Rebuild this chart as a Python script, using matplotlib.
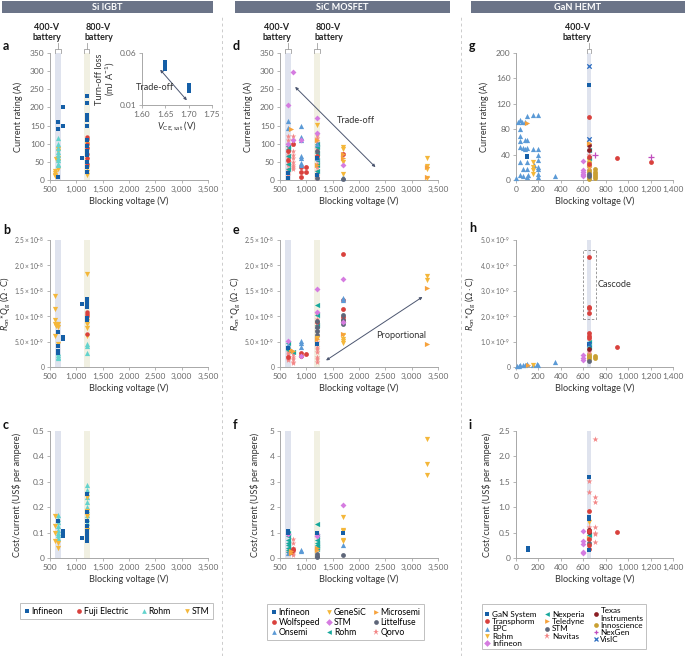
import matplotlib.pyplot as plt
import matplotlib.transforms as mtransforms
from matplotlib.lines import Line2D
from matplotlib.patches import Rectangle

plt.rcParams['font.family'] = ['Lato', 'DejaVu Sans']
plt.rcParams['mathtext.fontset'] = 'custom'
plt.rcParams['mathtext.rm'] = 'Lato'
plt.rcParams['mathtext.it'] = 'Lato:italic'
plt.rcParams['mathtext.bf'] = 'Lato:bold'

# ---------------- data: (blocking voltage, value) ----------------
# Si IGBT, current rating (A)
a_infineon = [(650, 160), (650, 140), (650, 8), (750, 200), (750, 150), (1100, 60), (1200, 232), (1200, 212),
              (1200, 178), (1200, 172), (1200, 166), (1200, 150), (1200, 110), (1200, 95), (1200, 80),
              (1200, 70), (1200, 50), (1200, 35), (1200, 22)]
a_fuji = [(1200, 118), (1200, 112), (1200, 100), (1200, 88), (1200, 72), (1200, 62), (1200, 45)]
a_rohm = [(650, 115), (650, 100), (650, 88), (650, 78), (650, 68), (650, 60), (650, 55), (650, 45), (650, 40)]
a_stm = [(600, 25), (600, 20), (600, 15), (600, 10), (620, 58), (650, 85), (650, 80), (650, 62), (650, 52),
         (650, 30), (1200, 98), (1200, 85), (1200, 55), (1200, 32), (1200, 22), (1200, 15)]
# inset: V_CE,sat vs turn-off loss
inset_infineon = [(1.65, 0.051), (1.65, 0.049), (1.65, 0.047), (1.65, 0.045), (1.70, 0.029), (1.70, 0.027),
                  (1.70, 0.025), (1.70, 0.023)]

# Si IGBT, Ron*Qg
b_infineon = [(650, 6.9e-9), (650, 4.1e-9), (650, 3.1e-9), (650, 2.7e-9), (750, 5.5e-9), (750, 5.9e-9),
              (1100, 12.4e-9), (1200, 13.4e-9), (1200, 12.9e-9), (1200, 12.4e-9), (1200, 11.9e-9),
              (1200, 9.6e-9), (1200, 9.2e-9)]
b_fuji = [(1200, 10.8e-9), (1200, 10.4e-9), (1200, 10.0e-9), (1200, 6.4e-9)]
b_rohm = [(650, 2.7e-9), (650, 2.3e-9), (650, 2.0e-9), (650, 1.7e-9), (1200, 4.6e-9), (1200, 4.2e-9),
          (1200, 2.8e-9)]
b_stm = [(600, 13.9e-9), (600, 11.4e-9), (600, 9.2e-9), (600, 8.4e-9), (620, 8.1e-9), (650, 8.4e-9),
         (650, 7.9e-9), (600, 6.2e-9), (650, 4.6e-9), (1200, 18.3e-9), (1200, 9.0e-9), (1200, 8.5e-9),
         (1200, 7.7e-9), (1200, 6.2e-9)]

# Si IGBT, cost/current
c_infineon = [(650, 0.147), (750, 0.105), (750, 0.095), (750, 0.086), (1100, 0.078), (1200, 0.253),
              (1200, 0.18), (1200, 0.147), (1200, 0.125), (1200, 0.105), (1200, 0.095), (1200, 0.085),
              (1200, 0.075), (1200, 0.066)]
c_fuji = []
c_rohm = [(650, 0.17), (650, 0.155), (650, 0.14), (650, 0.125), (650, 0.11), (650, 0.1), (650, 0.09),
          (650, 0.08), (1200, 0.288), (1200, 0.268), (1200, 0.24), (1200, 0.22), (1200, 0.2), (1200, 0.19),
          (1200, 0.17), (1200, 0.155), (1200, 0.138)]
c_stm = [(600, 0.164), (600, 0.125), (600, 0.099), (600, 0.066), (650, 0.06), (650, 0.04), (1200, 0.242),
         (1200, 0.186), (1200, 0.164), (1200, 0.112)]

# SiC MOSFET, current rating (A)
d_infineon = [(650, 5), (650, 18), (1200, 60), (1200, 15)]
d_wolfspeed = [(900, 35), (1000, 35), (900, 21), (1000, 21), (900, 9), (650, 80), (650, 55), (750, 100),
               (1200, 65), (1700, 72)]
d_onsemi = [(650, 163), (650, 144), (900, 149), (900, 118), (900, 110), (900, 66), (900, 62), (900, 46),
            (900, 41), (1200, 100), (1200, 60), (1700, 9), (1700, 5)]
d_genesic = [(1200, 152), (1700, 92), (1700, 85), (1700, 50), (1700, 17), (3300, 62), (3300, 39), (3300, 29),
             (3300, 6)]
d_stm = [(750, 298), (650, 207), (1200, 170), (1200, 129), (750, 110), (900, 110), (1700, 41), (650, 100)]
d_rohm = [(650, 95), (650, 85), (650, 65), (650, 45), (650, 30), (1200, 100), (1200, 90), (1200, 75),
          (1200, 55), (1200, 40), (1200, 25)]
d_microsemi = [(700, 140), (1200, 110), (1200, 40), (1700, 73), (1700, 62), (3300, 37), (3300, 9)]
d_littelfuse = [(1200, 5), (1700, 3), (1200, 80)]
d_qorvo = [(650, 120), (650, 110), (650, 100), (650, 90), (650, 80), (650, 70), (650, 60), (650, 50),
           (650, 40), (650, 30), (650, 25), (650, 20), (650, 15), (750, 120), (750, 110), (750, 100),
           (750, 80), (750, 70), (750, 60), (750, 50), (750, 40), (750, 35), (750, 30), (1200, 125),
           (1200, 115), (1200, 105), (1200, 95), (1200, 85), (1200, 75), (1200, 65), (1200, 55), (1200, 45),
           (1200, 35), (1200, 25), (1200, 15), (1200, 10), (1200, 5)]

# SiC MOSFET, Ron*Qg
e_infineon = [(1200, 4.5e-9), (650, 3.8e-9)]
e_wolfspeed = [(1700, 22.2e-9), (1700, 13.1e-9), (1700, 11.4e-9), (1700, 9.9e-9), (1700, 9.3e-9),
               (900, 2.7e-9), (900, 2.2e-9), (1000, 2.5e-9), (1200, 8.8e-9), (650, 2.0e-9)]
e_onsemi = [(1700, 13.6e-9), (1700, 13.2e-9), (900, 5.2e-9), (900, 4.7e-9), (900, 4.0e-9), (650, 4.3e-9),
            (1200, 8.0e-9)]
e_genesic = [(3300, 18.0e-9), (3300, 17.1e-9), (1700, 6.3e-9), (1700, 5.6e-9), (1700, 5.1e-9),
             (1700, 4.7e-9), (1200, 5.8e-9)]
e_stm = [(1700, 17.4e-9), (1200, 15.3e-9), (650, 5.2e-9), (900, 2.2e-9), (1700, 8.8e-9), (1200, 10.9e-9)]
e_rohm = [(1200, 12.2e-9), (1200, 10.2e-9), (650, 4.7e-9), (650, 3.3e-9), (750, 3.0e-9), (1200, 8.3e-9)]
e_microsemi = [(3300, 15.6e-9), (3300, 4.5e-9), (1700, 6.4e-9), (700, 3.3e-9), (750, 3.1e-9), (1200, 5.6e-9)]
e_littelfuse = [(1700, 10.2e-9), (1700, 9.3e-9), (1700, 8.4e-9), (1200, 9.0e-9), (1200, 7.9e-9),
                (1200, 7.0e-9), (1200, 6.3e-9)]
e_qorvo = [(650, 4.0e-9), (650, 3.5e-9), (650, 3.0e-9), (650, 2.5e-9), (650, 2.0e-9), (650, 1.6e-9),
           (650, 1.3e-9), (750, 2.5e-9), (750, 2.0e-9), (750, 1.5e-9), (750, 1.0e-9), (750, 0.8e-9),
           (1200, 10.5e-9), (1200, 9.5e-9), (1200, 8.0e-9), (1200, 7.0e-9), (1200, 6.0e-9), (1200, 5.0e-9),
           (1200, 4.0e-9), (1200, 3.5e-9), (1200, 3.0e-9), (1200, 2.0e-9), (1200, 1.5e-9), (1200, 1.0e-9)]

# SiC MOSFET, cost/current
f_infineon = [(650, 1.05), (650, 0.98), (1200, 1.0), (1700, 1.0)]
f_wolfspeed = [(750, 0.35), (750, 0.3), (700, 0.25)]
f_onsemi = [(1700, 0.5), (900, 0.32), (900, 0.27), (650, 0.18)]
f_genesic = [(3300, 4.67), (3300, 3.72), (3300, 3.25), (1700, 1.6), (1700, 1.1), (1700, 1.05), (1700, 0.7),
             (1700, 0.65)]
f_stm = [(1700, 2.08), (1200, 0.95), (1200, 0.85), (650, 0.95)]
f_rohm = [(1200, 1.35), (650, 1.0), (650, 0.85), (650, 0.7), (650, 0.6), (650, 0.5), (650, 0.4), (650, 0.3),
          (650, 0.25), (1200, 0.85), (1200, 0.7), (1200, 0.6), (1200, 0.5), (1200, 0.45), (1200, 0.35)]
f_microsemi = [(700, 0.2), (700, 0.28), (1200, 0.33), (1200, 0.38)]
f_littelfuse = [(1700, 0.1), (1200, 0.03), (1200, 0.08), (1200, 0.15)]
f_qorvo = [(750, 0.75), (750, 0.6), (750, 0.4), (750, 0.3), (750, 0.2), (750, 0.12), (650, 0.25)]

# GaN HEMT, current rating (A)
g_gansystem = [(650, 150), (95, 38), (95, 36)]
g_transphorm = [(650, 99), (650, 36), (650, 25), (903, 34), (1203, 28)]
g_epc = [(21, 92), (36, 94), (51, 92), (80, 92), (95, 101), (149, 102), (199, 102), (36, 80), (36, 69),
         (36, 62), (80, 63), (95, 63), (36, 52), (60, 50), (80, 49), (101, 50), (149, 49), (199, 49),
         (36, 29), (95, 29), (199, 39), (199, 31), (160, 24), (199, 21), (199, 17), (65, 18), (95, 18),
         (199, 10), (0, 3), (36, 8), (65, 6), (95, 4), (110, 8), (199, 4), (348, 6)]
g_rohm = [(149, 29), (149, 21), (149, 16), (149, 9), (650, 30), (650, 20)]
g_infineon = [(600, 30), (600, 16), (600, 13), (600, 10), (600, 8), (600, 6)]
g_nexperia = [(648, 47), (648, 34)]
g_teledyne = [(95, 90), (650, 59)]
g_stm = [(650, 6), (650, 10)]
g_navitas = [(650, 21), (650, 40)]
g_texas = [(650, 55), (650, 48)]
g_innoscience = [(701, 17), (701, 13), (701, 10), (701, 6), (701, 3), (650, 28), (650, 22), (650, 15),
                 (650, 12), (650, 8), (650, 4), (650, 2)]
g_nexgen = [(701, 39), (1203, 37)]
g_visic = [(648, 180), (650, 65)]

# GaN HEMT, Ron*Qg
h_gansystem = [(650, 0.91e-9)]
h_transphorm = [(650, 4.33e-9), (650, 2.38e-9), (650, 2.31e-9), (650, 2.11e-9), (650, 1.33e-9),
                (650, 1.24e-9), (650, 1.14e-9), (905, 0.77e-9)]
h_epc = [(10, 0.03e-9), (25, 0.05e-9), (40, 0.06e-9), (60, 0.08e-9), (80, 0.07e-9), (100, 0.1e-9),
         (150, 0.09e-9), (190, 0.13e-9), (200, 0.08e-9), (350, 0.2e-9)]
h_rohm = [(153, 0.08e-9)]
h_infineon = [(598, 0.46e-9), (598, 0.35e-9), (598, 0.29e-9)]
h_nexperia = [(650, 1.0e-9), (650, 0.78e-9)]
h_teledyne = [(103, 0.08e-9)]
h_stm = [(650, 0.22e-9)]
h_navitas = [(650, 0.59e-9)]
h_texas = [(650, 0.69e-9)]
h_innoscience = [(704, 0.42e-9), (704, 0.35e-9), (650, 0.52e-9), (650, 0.45e-9), (650, 0.38e-9),
                 (650, 0.3e-9)]
h_nexgen = []
h_visic = [(650, 0.89e-9)]

# GaN HEMT, cost/current
i_gansystem = [(103, 0.2), (103, 0.15), (648, 1.59), (648, 0.8), (648, 0.77), (648, 0.15)]
i_transphorm = [(648, 0.93), (648, 0.54), (905, 0.51), (648, 0.25), (648, 0.18), (648, 0.37)]
i_epc = []
i_rohm = [(648, 0.71)]
i_infineon = [(598, 0.54), (598, 0.34), (598, 0.28), (598, 0.11), (598, 0.09)]
i_nexperia = [(648, 0.45)]
i_teledyne = [(648, 0.39)]
i_stm = [(648, 0.29)]
i_navitas = [(701, 2.34), (648, 1.52), (648, 1.29), (701, 1.21), (701, 1.11), (701, 0.61), (701, 0.49),
             (701, 0.47), (701, 0.31), (648, 0.62)]
i_texas = [(648, 0.56), (648, 0.52)]
i_innoscience = []
i_nexgen = []
i_visic = []

sic_volts = [500, 1000, 1500, 2000, 2500, 3000, 3500]
gan_volts = [0, 200, 400, 600, 800, 1000, 1200, 1400]

# ---------------- styles ----------------
BLUE = '#155fa7'
RED = '#d9413d'
CYAN = '#63d3cd'
YELLOW = '#f4b73a'
LBLUE = '#5b9ad6'
MAGENTA = '#d57ce0'
TEAL = '#17a89c'
ORANGE = '#f6a23c'
SLATE = '#5e6679'
PINK = '#f38686'
DRED = '#8b1e24'
GOLD = '#c9a032'
PURPLE = '#c04dbe'
VBLUE = '#2a6cc0'

ST = {
    'Infineon_sq': ('s', BLUE, 9),
    'Fuji': ('o', RED, 10),
    'Rohm_up': ('^', CYAN, 14),
    'STM_dn': ('v', YELLOW, 14),
    'Wolfspeed': ('o', RED, 12),
    'Onsemi': ('^', LBLUE, 14),
    'GeneSiC': ('v', YELLOW, 14),
    'STM_d': ('D', MAGENTA, 9),
    'Rohm_l': ('<', TEAL, 14),
    'Microsemi': ('>', ORANGE, 14),
    'Littelfuse': ('o', SLATE, 12),
    'Qorvo': ('*', PINK, 18),
    'GaNSys': ('s', BLUE, 9),
    'Transphorm': ('o', RED, 12),
    'EPC': ('^', LBLUE, 14),
    'Rohm_dn': ('v', YELLOW, 14),
    'Infineon_d': ('D', MAGENTA, 9),
    'Nexperia': ('<', TEAL, 14),
    'Teledyne': ('>', ORANGE, 14),
    'STM_o': ('o', SLATE, 12),
    'Navitas': ('*', PINK, 20),
    'Texas': ('o', DRED, 12),
    'Innoscience': ('o', GOLD, 12),
    'NexGen': ('+', PURPLE, 14),
    'VisIC': ('x', VBLUE, 10),
}

fig = plt.figure(figsize=(6.85, 6.56), dpi=100)
W, H = 685, 656


def px_axes(x0, y0, x1, y1):
    return fig.add_axes([x0 / W, 1 - y1 / H, (x1 - x0) / W, (y1 - y0) / H])


def pts(ax, data, key):
    if not data:
        return
    m, c, s = ST[key]
    xs = [p[0] for p in data]
    ys = [p[1] for p in data]
    lw = 0.9 if m in ('+', 'x') else 0
    ax.scatter(xs, ys, marker=m, s=s, color=c, linewidths=lw, clip_on=False, zorder=3)


def style(ax, xticks, yticks, ylabels, ylabel, label_x, ysize=6):
    for sp in ['top', 'right']:
        ax.spines[sp].set_visible(False)
    for sp in ['left', 'bottom']:
        ax.spines[sp].set_color('#a8a8a8')
        ax.spines[sp].set_linewidth(0.7)
    ax.set_xlim(xticks[0], xticks[-1])
    ax.set_xticks(xticks)
    ax.set_xticklabels([f'{v:,}' for v in xticks])
    ax.set_ylim(yticks[0], yticks[-1])
    ax.set_yticks(yticks)
    ax.set_yticklabels(ylabels)
    ax.tick_params(length=2.5, width=0.6, color='#a8a8a8', labelsize=6, labelcolor='#6a6a6a', pad=1.5)
    ax.tick_params(axis='y', labelsize=ysize)
    ax.set_xlabel('Blocking voltage (V)', fontsize=6.6, color='#333333', labelpad=3)
    ax.set_ylabel(ylabel, fontsize=6.6, color='#333333')
    # place the y label at a pixel column (right edge of the rotated text)
    bb = ax.get_position()
    ax.yaxis.set_label_coords((label_x + 4 - bb.x0 * W) / (bb.width * W), 0.5)


def battery(ax, x0, x1, label=None, color='#dfe3ee', side='right'):
    ax.axvspan(x0, x1, color=color, zorder=0, lw=0)
    if label is None:
        return
    tr = mtransforms.blended_transform_factory(ax.transData, ax.transAxes)
    ax.plot([x0, x0, x1, x1], [1.0, 1.035, 1.035, 1.0], transform=tr, color='#a0a0a0', lw=0.6, clip_on=False)
    xm = (x0 + x1) / 2
    ax.plot([xm, xm], [1.035, 1.075], transform=tr, color='#a0a0a0', lw=0.6, clip_on=False)
    if side == 'right':
        xt, ha = x1 + (x1 - x0) * 0.1, 'right'
    else:
        xt, ha = x0, 'left'
    ax.text(xt, 1.085, label, transform=tr, ha=ha, va='bottom', multialignment='center', fontsize=6.4,
            fontweight='bold', color='#222222', linespacing=1.15)


BLUEBAND = '#dfe3ee'
BEIGEBAND = '#f1f0e2'
ronqg = r'$R_{\rm on}$*$Q_{\rm g}$ ($\Omega\cdot$C)'
cost = r'Cost/current (US\$ per ampere)'
cur = 'Current rating (A)'

ron_ticks = [0, 5e-9, 1e-8, 1.5e-8, 2e-8, 2.5e-8]
ron_labels = ['0', r'$5.0\times10^{-9}$', r'$1.0\times10^{-8}$', r'$1.5\times10^{-8}$',
              r'$2.0\times10^{-8}$', r'$2.5\times10^{-8}$']

cols = [(50, 208), (280, 438), (516, 673)]
rows = [(53, 180), (240, 367), (431, 558)]

# ---------------- Si IGBT ----------------
ax = px_axes(cols[0][0], rows[0][0], cols[0][1], rows[0][1])
battery(ax, 600, 700, '400-V\nbattery', BLUEBAND, 'right')
battery(ax, 1150, 1250, '800-V\nbattery', BEIGEBAND, 'left')
pts(ax, a_stm, 'STM_dn'); pts(ax, a_rohm, 'Rohm_up'); pts(ax, a_fuji, 'Fuji'); pts(ax, a_infineon, 'Infineon_sq')
style(ax, sic_volts, list(range(0, 351, 50)), [str(v) for v in range(0, 351, 50)], cur, 19)

axin = px_axes(142, 53, 212, 105)
axin.set_facecolor('none')
pts(axin, inset_infineon, 'Infineon_sq')
for sp in ['top', 'right']:
    axin.spines[sp].set_visible(False)
for sp in ['left', 'bottom']:
    axin.spines[sp].set_color('#a8a8a8')
    axin.spines[sp].set_linewidth(0.7)
axin.set_xlim(1.6, 1.75)
axin.set_ylim(0.01, 0.06)
axin.set_xticks([1.6, 1.65, 1.7, 1.75])
axin.set_xticklabels(['1.60', '1.65', '1.70', '1.75'])
axin.set_yticks([0.01, 0.06])
axin.set_yticklabels(['0.01', '0.06'])
axin.tick_params(length=2.5, width=0.6, color='#a8a8a8', labelsize=6, labelcolor='#6a6a6a', pad=1.5)
axin.set_xlabel(r'$V_{\rm CE,sat}$ (V)', fontsize=6.6, color='#333333', labelpad=1)
axin.set_ylabel('Turn-off loss\n(mJ A$^{-1}$)', fontsize=6.6, color='#333333', labelpad=2, linespacing=1.0)
axin.annotate('', xy=(1.70, 0.0125), xytext=(1.635, 0.046),
              arrowprops=dict(arrowstyle='<|-|>', color='#4c5670', lw=0.7, mutation_scale=4))
axin.text(1.627, 0.027, 'Trade-off', fontsize=6.6, color='#333333', ha='center', va='center')

ax = px_axes(cols[0][0], rows[1][0], cols[0][1], rows[1][1])
battery(ax, 600, 700, None, BLUEBAND)
battery(ax, 1150, 1250, None, BEIGEBAND)
pts(ax, b_stm, 'STM_dn'); pts(ax, b_rohm, 'Rohm_up'); pts(ax, b_fuji, 'Fuji'); pts(ax, b_infineon, 'Infineon_sq')
style(ax, sic_volts, ron_ticks, ron_labels, ronqg, 9, ysize=4.8)

ax = px_axes(cols[0][0], rows[2][0], cols[0][1], rows[2][1])
battery(ax, 600, 700, None, BLUEBAND)
battery(ax, 1150, 1250, None, BEIGEBAND)
pts(ax, c_rohm, 'Rohm_up'); pts(ax, c_stm, 'STM_dn'); pts(ax, c_fuji, 'Fuji'); pts(ax, c_infineon, 'Infineon_sq')
style(ax, sic_volts, [0, 0.1, 0.2, 0.3, 0.4, 0.5], ['0', '0.1', '0.2', '0.3', '0.4', '0.5'], cost, 18)

# ---------------- SiC MOSFET ----------------
sic_sets = [
    ('Qorvo', 'qorvo'), ('Rohm_l', 'rohm'), ('Wolfspeed', 'wolfspeed'), ('Onsemi', 'onsemi'),
    ('Littelfuse', 'littelfuse'), ('GeneSiC', 'genesic'), ('Microsemi', 'microsemi'), ('STM_d', 'stm'),
    ('Infineon_sq', 'infineon'),
]
d_all = {'qorvo': d_qorvo, 'rohm': d_rohm, 'wolfspeed': d_wolfspeed, 'onsemi': d_onsemi,
         'littelfuse': d_littelfuse, 'genesic': d_genesic, 'microsemi': d_microsemi, 'stm': d_stm,
         'infineon': d_infineon}
e_all = {'qorvo': e_qorvo, 'rohm': e_rohm, 'wolfspeed': e_wolfspeed, 'onsemi': e_onsemi,
         'littelfuse': e_littelfuse, 'genesic': e_genesic, 'microsemi': e_microsemi, 'stm': e_stm,
         'infineon': e_infineon}
f_all = {'qorvo': f_qorvo, 'rohm': f_rohm, 'wolfspeed': f_wolfspeed, 'onsemi': f_onsemi,
         'littelfuse': f_littelfuse, 'genesic': f_genesic, 'microsemi': f_microsemi, 'stm': f_stm,
         'infineon': f_infineon}

ax = px_axes(cols[1][0], rows[0][0], cols[1][1], rows[0][1])
battery(ax, 600, 700, '400-V\nbattery', BLUEBAND, 'right')
battery(ax, 1150, 1250, '800-V\nbattery', BEIGEBAND, 'left')
for key, name in sic_sets:
    pts(ax, d_all[name], key)
style(ax, sic_volts, list(range(0, 351, 50)), [str(v) for v in range(0, 351, 50)], cur, 249)
ax.annotate('', xy=(2350, 30), xytext=(750, 262),
            arrowprops=dict(arrowstyle='<|-|>', color='#4c5670', lw=0.7, mutation_scale=4))
ax.text(1950, 163, 'Trade-off', fontsize=6.6, color='#333333', ha='center', va='center')

ax = px_axes(cols[1][0], rows[1][0], cols[1][1], rows[1][1])
battery(ax, 600, 700, None, BLUEBAND)
battery(ax, 1150, 1250, None, BEIGEBAND)
for key, name in sic_sets:
    pts(ax, e_all[name], key)
style(ax, sic_volts, ron_ticks, ron_labels, ronqg, 239, ysize=4.8)
ax.annotate('', xy=(3250, 14.1e-9), xytext=(1330, 1.0e-9),
            arrowprops=dict(arrowstyle='<|-|>', color='#4c5670', lw=0.7, mutation_scale=4))
ax.text(2800, 6.2e-9, 'Proportional', fontsize=6.6, color='#333333', ha='center', va='center')

ax = px_axes(cols[1][0], rows[2][0], cols[1][1], rows[2][1])
battery(ax, 600, 700, None, BLUEBAND)
battery(ax, 1150, 1250, None, BEIGEBAND)
for key, name in sic_sets:
    pts(ax, f_all[name], key)
style(ax, sic_volts, [0, 1, 2, 3, 4, 5], ['0', '1', '2', '3', '4', '5'], cost, 256)

# ---------------- GaN HEMT ----------------
gan_keys = ['EPC', 'Innoscience', 'Infineon_d', 'Navitas', 'STM_o', 'Rohm_dn', 'Nexperia', 'Texas',
            'Teledyne', 'Transphorm', 'GaNSys', 'NexGen', 'VisIC']
g_sets = [g_epc, g_innoscience, g_infineon, g_navitas, g_stm, g_rohm, g_nexperia, g_texas, g_teledyne,
          g_transphorm, g_gansystem, g_nexgen, g_visic]
h_sets = [h_epc, h_innoscience, h_infineon, h_navitas, h_stm, h_rohm, h_nexperia, h_texas, h_teledyne,
          h_transphorm, h_gansystem, h_nexgen, h_visic]
i_sets = [i_epc, i_innoscience, i_infineon, i_navitas, i_stm, i_rohm, i_nexperia, i_texas, i_teledyne,
          i_transphorm, i_gansystem, i_nexgen, i_visic]

ax = px_axes(cols[2][0], rows[0][0], cols[2][1], rows[0][1])
battery(ax, 630, 670, '400-V\nbattery', BLUEBAND, 'right')
for key, data in zip(gan_keys, g_sets):
    pts(ax, data, key)
style(ax, gan_volts, [0, 40, 80, 120, 160, 200], ['0', '40', '80', '120', '160', '200'], cur, 485)

ax = px_axes(cols[2][0], rows[1][0], cols[2][1], rows[1][1])
battery(ax, 630, 670, None, BLUEBAND)
for key, data in zip(gan_keys, h_sets):
    pts(ax, data, key)
style(ax, gan_volts, [0, 1e-9, 2e-9, 3e-9, 4e-9, 5e-9],
      ['0', r'$1.0\times10^{-9}$', r'$2.0\times10^{-9}$', r'$3.0\times10^{-9}$',
       r'$4.0\times10^{-9}$', r'$5.0\times10^{-9}$'], ronqg, 474, ysize=4.8)
ax.add_patch(Rectangle((600, 1.9e-9), 110, 2.7e-9, fill=False, ls=(0, (3, 2)), lw=0.6, ec='#8a8a8a'))
ax.text(725, 3.25e-9, 'Cascode', fontsize=6.6, color='#333333', ha='left', va='center')

ax = px_axes(cols[2][0], rows[2][0], cols[2][1], rows[2][1])
battery(ax, 630, 670, None, BLUEBAND)
for key, data in zip(gan_keys, i_sets):
    pts(ax, data, key)
style(ax, gan_volts, [0, 0.5, 1.0, 1.5, 2.0, 2.5], ['0', '0.5', '1.0', '1.5', '2.0', '2.5'], cost, 488)

# ---------------- headers, separators, labels ----------------
for x0, x1, title in [(2, 213, 'Si IGBT'), (235, 450, 'SiC MOSFET'), (471, 685, 'GaN HEMT')]:
    fig.patches.append(Rectangle((x0 / W, 1 - 13 / H), (x1 - x0) / W, 12 / H, transform=fig.transFigure,
                                 color='#6b7488', lw=0))
    fig.text((x0 + x1) / 2 / W, 1 - 7 / H, title, color='white', fontsize=6.6, fontweight='bold',
             ha='center', va='center')

for xs in [222, 461]:
    fig.add_artist(Line2D([xs / W, xs / W], [0, 1 - 16 / H], transform=fig.transFigure, color='#cccccc',
                          lw=0.7, ls=(0, (3, 3))))

for lab, x, y in [('a', 3, 46), ('b', 3, 230), ('c', 3, 425), ('d', 233, 46), ('e', 233, 230),
                  ('f', 233, 425), ('g', 469, 46), ('h', 469, 228), ('i', 469, 425)]:
    fig.text(x / W, 1 - y / H, lab, fontsize=9, fontweight='bold', ha='left', va='center', color='#111111')


# ---------------- legends ----------------
def handle(key):
    m, c, s = ST[key]
    return Line2D([], [], marker=m, color=c, ls='none', markersize=3.4 if m not in ('*',) else 4.6,
                  markeredgewidth=0.9 if m in ('+', 'x') else 0)


leg_kw = dict(loc='upper left', frameon=True, fancybox=False, edgecolor='#b0b0b0', fontsize=6.2,
              handletextpad=0.2, handlelength=0.7, borderpad=0.4, labelspacing=0.12)

lg = fig.legend([handle(k) for k in ['Infineon_sq', 'Fuji', 'Rohm_up', 'STM_dn']],
                ['Infineon', 'Fuji Electric', 'Rohm', 'STM'], ncol=4, columnspacing=1.5,
                bbox_to_anchor=(16 / W, 1 - 599 / H), **leg_kw)
lg.get_frame().set_linewidth(0.7)

lg = fig.legend([handle(k) for k in ['Infineon_sq', 'Wolfspeed', 'Onsemi', 'GeneSiC', 'STM_d', 'Rohm_l',
                                     'Microsemi', 'Littelfuse', 'Qorvo']],
                ['Infineon', 'Wolfspeed', 'Onsemi', 'GeneSiC', 'STM', 'Rohm', 'Microsemi', 'Littelfuse',
                 'Qorvo'], ncol=3, columnspacing=0.7, bbox_to_anchor=(263 / W, 1 - 600 / H), **leg_kw)
lg.get_frame().set_linewidth(0.7)

leg_kw_i = dict(leg_kw, fontsize=5.9, labelspacing=0.02, borderpad=0.3)
lg = fig.legend([handle(k) for k in ['GaNSys', 'Transphorm', 'EPC', 'Rohm_dn', 'Infineon_d', 'Nexperia',
                                     'Teledyne', 'STM_o', 'Navitas', 'Texas', 'Innoscience', 'NexGen',
                                     'VisIC']],
                ['GaN System', 'Transphorm', 'EPC', 'Rohm', 'Infineon', 'Nexperia', 'Teledyne', 'STM',
                 'Navitas', 'Texas\nInstruments', 'Innoscience', 'NexGen', 'VisIC'],
                ncol=3, columnspacing=1.0, bbox_to_anchor=(478 / W, 1 - 600 / H), **leg_kw_i)
lg.get_frame().set_linewidth(0.7)

fig.savefig('out.png', dpi=100)
